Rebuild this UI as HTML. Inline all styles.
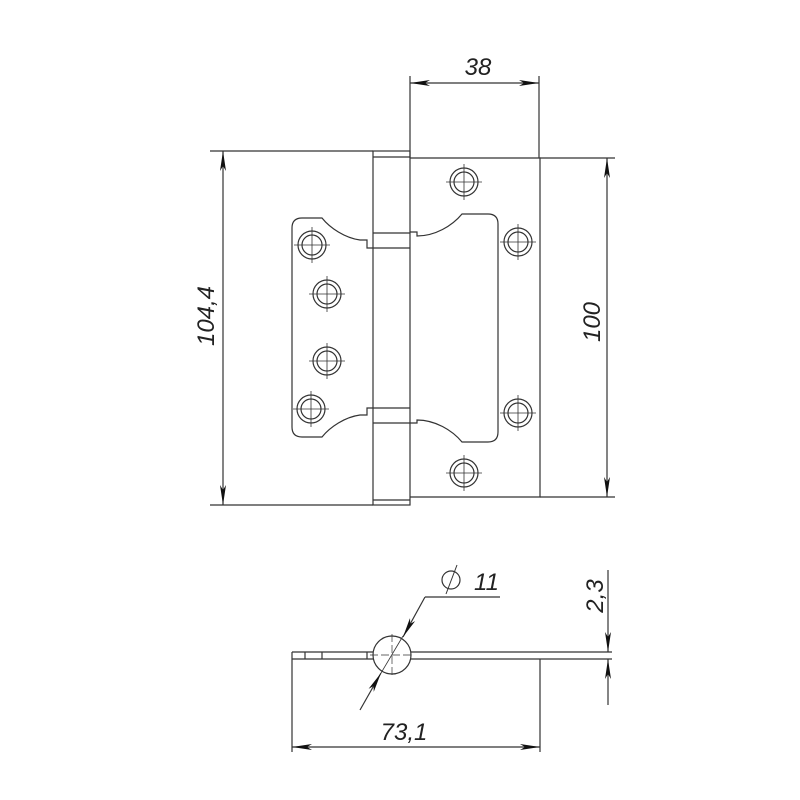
<!DOCTYPE html>
<html><head><style>body{margin:0;background:#fff}svg{display:block}</style></head>
<body>
<svg width="800" height="800" viewBox="0 0 800 800" xmlns="http://www.w3.org/2000/svg" fill="none" stroke="#333" stroke-width="1.2" font-family="Liberation Sans, sans-serif">
<defs>
<marker id="a" viewBox="0 0 20 6" refX="20" refY="3" markerWidth="20" markerHeight="6" markerUnits="userSpaceOnUse" orient="auto"><path d="M0,0 L20,3 L0,6 L5,3Z" fill="#111" stroke="none"/></marker>
<g id="h"><circle r="14"/><circle r="10"/><path d="M-18,0H18M0,-18V18" stroke-width="0.8"/></g>
</defs>
<!-- left leaf -->
<path d="M218,151H373M218,505H373"/>
<!-- knuckle -->
<rect x="373" y="151" width="37" height="354"/>
<path d="M373,157H410M373,500H410M373,233H410M373,248H410M373,408H410M373,423H410"/>
<!-- right leaf -->
<path d="M410,158H540V497H410"/>
<!-- left cutout -->
<path d="M373,248H367V240H360 C345,238 330,228 322,218 H302 Q292,218 292,228 V427 Q292,437 302,437 H322 C330,427 345,417 360,415 H367 V408 H373"/>
<!-- right cutout -->
<path d="M410,232H417V236 C435,236 452,226 462,214 H488 Q498,214 498,224 V432 Q498,442 488,442 H462 C452,430 435,420 417,420 V423 H410"/>
<use href="#h" x="464" y="182"/><use href="#h" x="518" y="242"/><use href="#h" x="518" y="413"/><use href="#h" x="464" y="473"/>
<use href="#h" x="312" y="245"/><use href="#h" x="327" y="294"/><use href="#h" x="327" y="361"/><use href="#h" x="311" y="409"/>
<!-- dims top -->
<path d="M410,76V158M539,76V158"/>
<path d="M475,83H410" marker-end="url(#a)"/>
<path d="M475,83H539" marker-end="url(#a)"/>
<text x="478" y="75" font-size="24" font-style="italic" fill="#222" stroke="none" text-anchor="middle">38</text>
<!-- 100 -->
<path d="M540,158H615M540,497H615"/>
<path d="M607,330V158" marker-end="url(#a)"/>
<path d="M607,330V497" marker-end="url(#a)"/>
<text transform="translate(600,322) rotate(-90)" font-size="24" font-style="italic" fill="#222" stroke="none" text-anchor="middle">100</text>
<!-- 104,4 -->
<path d="M210,151H218M210,505H218"/>
<path d="M223,330V151" marker-end="url(#a)"/>
<path d="M223,330V505" marker-end="url(#a)"/>
<text transform="translate(214,316) rotate(-90)" font-size="24" font-style="italic" fill="#222" stroke="none" text-anchor="middle">104,4</text>
<!-- side view -->
<path d="M292,652H373M411,652H612M292,659H373M411,659H612M292,652V659M305,652V659M322,652V659M367,652V659"/>
<circle cx="392" cy="655" r="19"/>
<path d="M370,655H414M392,634V676" stroke-width="0.7" stroke-dasharray="8,3"/>
<path d="M540,659V752M292,659V752"/>
<path d="M416,747H292" marker-end="url(#a)"/>
<path d="M416,747H540" marker-end="url(#a)"/>
<text x="404" y="740" font-size="24" font-style="italic" fill="#222" stroke="none" text-anchor="middle">73,1</text>
<path d="M500,597H425"/>
<path d="M425,597L403,637" marker-end="url(#a)"/>
<path d="M360,710L381,673" marker-end="url(#a)"/>
<path d="M381,673L403,636" stroke-width="0.8"/>
<circle cx="451" cy="580" r="9"/><path d="M446,594L457,565" stroke-width="1"/>
<text x="474" y="590" font-size="24" font-style="italic" fill="#222" stroke="none">11</text>
<!-- 2,3 -->
<path d="M608,570V652" marker-end="url(#a)"/>
<path d="M608,705V659" marker-end="url(#a)"/>
<text transform="translate(603,596) rotate(-90)" font-size="24" font-style="italic" fill="#222" stroke="none" text-anchor="middle">2,3</text>
</svg>
</body></html>
